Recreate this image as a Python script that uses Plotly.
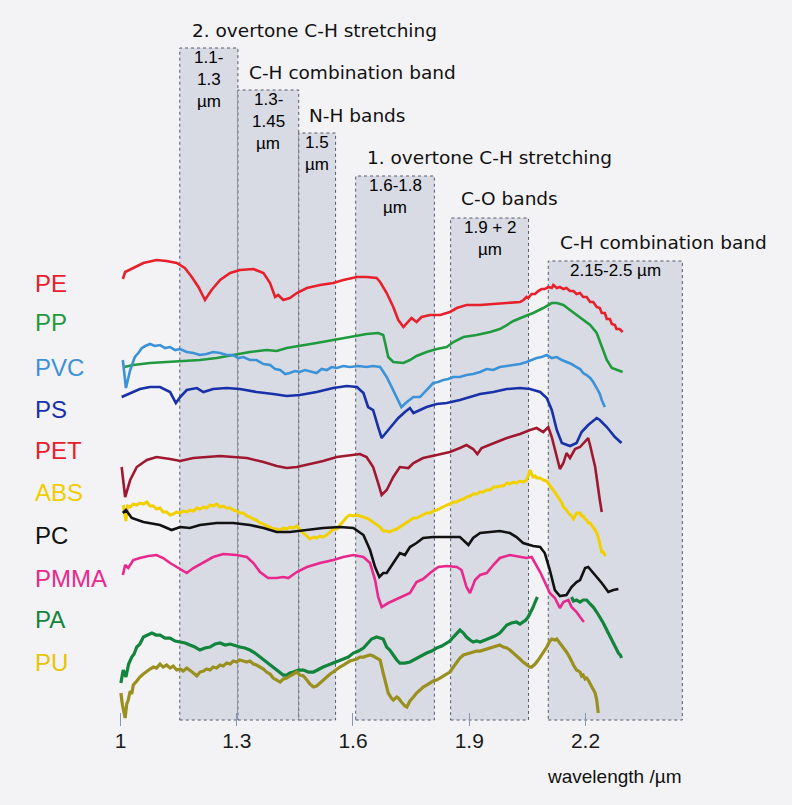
import plotly.graph_objects as go

# ---- NIR reflectance spectra of common polymers (wavelength in µm, offset intensity) ----
PE = [(1.006, 45.1), (1.012, 45.8), (1.033, 46.2), (1.059, 46.7), (1.093, 47.0), (1.119, 46.9),
      (1.145, 46.7), (1.166, 46.2), (1.184, 45.3), (1.201, 44.3), (1.218, 43.0), (1.235, 44.0),
      (1.257, 45.0), (1.283, 45.7), (1.308, 46.0), (1.343, 46.1), (1.369, 45.7), (1.386, 44.7),
      (1.399, 43.3), (1.407, 43.5), (1.420, 43.0), (1.437, 43.2), (1.455, 43.7), (1.481, 44.2),
      (1.515, 44.5), (1.549, 44.7), (1.575, 45.0), (1.610, 45.3), (1.635, 45.3), (1.661, 45.2),
      (1.670, 44.8), (1.687, 43.7), (1.704, 42.3), (1.717, 41.0), (1.730, 40.3), (1.743, 40.8),
      (1.751, 41.2), (1.764, 40.8), (1.777, 41.3), (1.799, 41.5), (1.825, 41.5), (1.850, 41.8),
      (1.868, 42.2), (1.893, 42.5), (1.928, 42.5), (1.962, 42.6), (1.997, 42.7), (2.031, 42.8),
      (2.040, 43.0), (2.048, 43.3), (2.052, 43.2), (2.061, 43.6), (2.070, 43.6), (2.078, 43.9),
      (2.087, 44.1), (2.095, 44.1), (2.104, 44.3), (2.113, 44.2), (2.117, 44.5), (2.126, 44.2),
      (2.134, 44.3), (2.143, 44.1), (2.151, 44.2), (2.160, 43.9), (2.169, 43.9), (2.177, 43.6),
      (2.186, 43.7), (2.194, 43.3), (2.203, 43.3), (2.212, 42.8), (2.220, 42.8), (2.229, 42.3),
      (2.237, 42.2), (2.242, 41.7), (2.250, 41.7), (2.255, 41.1), (2.263, 41.1), (2.268, 40.6),
      (2.276, 40.5), (2.280, 40.1), (2.288, 40.1), (2.296, 39.8)]

PP = [(1.009, 36.3), (1.033, 36.5), (1.076, 36.7), (1.119, 36.8), (1.162, 36.9), (1.205, 37.0),
      (1.248, 37.2), (1.291, 37.5), (1.334, 37.8), (1.377, 38.0), (1.403, 37.9), (1.429, 38.2),
      (1.463, 38.4), (1.506, 38.7), (1.549, 39.0), (1.592, 39.3), (1.635, 39.6), (1.665, 39.7),
      (1.678, 39.5), (1.683, 38.7), (1.691, 37.3), (1.704, 36.8), (1.730, 36.7), (1.747, 37.0),
      (1.764, 37.4), (1.790, 37.8), (1.816, 38.1), (1.842, 38.3), (1.859, 38.8), (1.885, 39.3),
      (1.919, 39.5), (1.954, 39.8), (1.979, 40.1), (1.997, 40.5), (2.014, 40.9), (2.039, 41.3),
      (2.065, 41.7), (2.091, 42.2), (2.113, 42.7), (2.126, 42.7), (2.143, 42.5), (2.160, 42.0),
      (2.177, 41.5), (2.194, 41.0), (2.212, 40.5), (2.229, 39.7), (2.242, 38.3), (2.255, 37.0),
      (2.268, 36.2), (2.285, 36.0), (2.296, 35.8)]

PVC = [(1.006, 37.0), (1.014, 34.2), (1.025, 36.0), (1.037, 37.3), (1.046, 37.7), (1.055, 38.2),
       (1.064, 38.4), (1.076, 38.6), (1.089, 38.4), (1.102, 38.5), (1.115, 38.2), (1.128, 38.3),
       (1.141, 38.0), (1.154, 38.1), (1.171, 37.8), (1.188, 37.7), (1.205, 37.5), (1.222, 37.6),
       (1.239, 37.8), (1.257, 37.7), (1.274, 37.5), (1.291, 37.5), (1.304, 37.2), (1.317, 37.3),
       (1.334, 37.0), (1.351, 37.0), (1.369, 36.6), (1.386, 36.5), (1.399, 36.1), (1.412, 36.0),
       (1.425, 35.6), (1.437, 35.7), (1.450, 35.9), (1.463, 35.8), (1.476, 36.0), (1.489, 35.9),
       (1.506, 35.7), (1.519, 36.1), (1.532, 36.0), (1.545, 36.3), (1.558, 36.2), (1.575, 36.4),
       (1.592, 36.3), (1.614, 36.4), (1.635, 36.3), (1.652, 36.4), (1.670, 36.3), (1.687, 35.3),
       (1.708, 33.7), (1.725, 32.3), (1.739, 32.8), (1.756, 33.3), (1.773, 33.3), (1.790, 34.0),
       (1.807, 34.7), (1.820, 34.8), (1.833, 35.0), (1.846, 35.1), (1.859, 35.3), (1.876, 35.3),
       (1.893, 35.5), (1.910, 35.6), (1.928, 35.8), (1.945, 36.1), (1.962, 36.0), (1.979, 36.3),
       (1.997, 36.4), (2.014, 36.5), (2.031, 36.6), (2.048, 36.8), (2.061, 37.0), (2.074, 37.2),
       (2.087, 37.3), (2.100, 37.5), (2.113, 37.2), (2.126, 37.3), (2.139, 37.0), (2.151, 36.8),
       (2.164, 36.6), (2.177, 36.3), (2.186, 36.1), (2.194, 35.7), (2.203, 35.5), (2.212, 35.2),
       (2.220, 34.8), (2.229, 34.2), (2.237, 33.6), (2.242, 33.0), (2.246, 32.6), (2.250, 32.3)]

PS = [(1.003, 33.3), (1.025, 33.7), (1.050, 34.1), (1.076, 34.3), (1.102, 34.3), (1.128, 33.8),
      (1.143, 32.7), (1.154, 33.3), (1.171, 34.0), (1.197, 34.2), (1.214, 33.8), (1.239, 34.1),
      (1.274, 34.2), (1.308, 34.1), (1.351, 33.8), (1.394, 33.6), (1.429, 33.4), (1.463, 33.5),
      (1.506, 33.8), (1.549, 34.2), (1.584, 34.4), (1.610, 34.3), (1.627, 33.7), (1.639, 32.3),
      (1.652, 32.0), (1.665, 30.3), (1.674, 29.2), (1.691, 30.0), (1.717, 31.2), (1.734, 31.8),
      (1.747, 32.2), (1.756, 31.7), (1.773, 32.0), (1.790, 32.3), (1.816, 32.6), (1.842, 32.7),
      (1.876, 33.0), (1.902, 33.3), (1.928, 33.6), (1.962, 33.8), (1.997, 34.1), (2.031, 34.2),
      (2.057, 34.1), (2.083, 33.8), (2.100, 33.2), (2.113, 32.0), (2.126, 30.0), (2.139, 28.7),
      (2.160, 28.4), (2.177, 28.7), (2.190, 29.8), (2.207, 30.5), (2.229, 31.2), (2.237, 31.0),
      (2.255, 30.3), (2.276, 29.3), (2.293, 28.7)]

PET = [(1.003, 26.3), (1.012, 23.3), (1.025, 25.0), (1.042, 26.3), (1.068, 27.0), (1.093, 27.3),
       (1.128, 27.1), (1.154, 26.9), (1.188, 27.2), (1.222, 27.3), (1.257, 27.4), (1.291, 27.3),
       (1.326, 27.2), (1.369, 26.8), (1.403, 26.4), (1.429, 26.2), (1.455, 26.3), (1.489, 26.6),
       (1.523, 26.9), (1.558, 27.3), (1.592, 27.5), (1.618, 27.6), (1.635, 27.3), (1.652, 26.3),
       (1.665, 24.7), (1.674, 23.5), (1.687, 24.0), (1.704, 25.3), (1.721, 26.3), (1.743, 26.2),
       (1.756, 26.7), (1.781, 27.2), (1.816, 27.5), (1.850, 27.8), (1.876, 28.2), (1.893, 28.5),
       (1.910, 28.1), (1.921, 27.6), (1.932, 28.2), (1.954, 28.5), (1.971, 28.8), (1.997, 29.2),
       (2.031, 29.6), (2.057, 30.0), (2.074, 30.2), (2.091, 29.8), (2.104, 30.3), (2.113, 29.3),
       (2.126, 27.3), (2.134, 26.1), (2.143, 26.7), (2.151, 27.7), (2.160, 27.2), (2.173, 28.1),
       (2.186, 28.3), (2.199, 28.8), (2.207, 29.2), (2.213, 28.3), (2.225, 26.3), (2.237, 23.0),
       (2.242, 21.8)]

ABS = [(1.007, 22.5), (1.014, 20.9), (1.018, 22.4), (1.025, 22.3), (1.033, 22.6), (1.042, 22.5),
       (1.050, 22.7), (1.059, 22.6), (1.068, 22.8), (1.076, 22.4), (1.085, 22.4), (1.093, 22.1),
       (1.102, 22.2), (1.110, 21.8), (1.119, 21.8), (1.128, 21.5), (1.136, 21.6), (1.145, 21.8),
       (1.154, 21.7), (1.162, 21.9), (1.171, 21.8), (1.179, 22.0), (1.188, 21.9), (1.197, 22.2),
       (1.205, 22.1), (1.214, 22.3), (1.222, 22.2), (1.231, 22.5), (1.239, 22.4), (1.248, 22.6),
       (1.257, 22.3), (1.265, 22.4), (1.274, 22.2), (1.283, 22.2), (1.291, 22.0), (1.300, 21.9),
       (1.308, 21.7), (1.317, 21.7), (1.326, 21.4), (1.334, 21.3), (1.343, 21.1), (1.351, 21.0),
       (1.360, 20.7), (1.369, 20.6), (1.377, 20.4), (1.386, 20.3), (1.394, 20.1), (1.403, 20.1),
       (1.412, 20.0), (1.420, 20.2), (1.429, 20.1), (1.437, 20.3), (1.446, 20.2), (1.455, 20.4),
       (1.463, 20.0), (1.472, 19.7), (1.481, 19.4), (1.489, 19.1), (1.498, 19.3), (1.506, 19.2),
       (1.515, 19.4), (1.523, 19.3), (1.532, 19.5), (1.541, 19.8), (1.549, 20.1), (1.558, 20.1),
       (1.566, 20.5), (1.575, 20.9), (1.584, 21.3), (1.592, 21.5), (1.601, 21.4), (1.610, 21.5),
       (1.618, 21.4), (1.627, 21.3), (1.635, 21.2), (1.644, 21.0), (1.652, 20.8), (1.661, 20.5),
       (1.670, 20.3), (1.678, 19.9), (1.687, 19.9), (1.695, 19.8), (1.704, 20.0), (1.713, 20.1),
       (1.721, 20.3), (1.730, 20.5), (1.739, 20.7), (1.747, 20.9), (1.756, 21.2), (1.764, 21.2),
       (1.773, 21.4), (1.781, 21.5), (1.790, 21.7), (1.799, 21.7), (1.807, 21.9), (1.816, 22.0),
       (1.825, 22.2), (1.833, 22.3), (1.842, 22.5), (1.850, 22.6), (1.859, 22.8), (1.868, 22.8),
       (1.876, 23.0), (1.885, 23.1), (1.893, 23.3), (1.902, 23.4), (1.910, 23.6), (1.919, 23.6),
       (1.928, 23.8), (1.936, 23.8), (1.945, 24.0), (1.954, 24.0), (1.962, 24.3), (1.971, 24.3),
       (1.979, 24.4), (1.988, 24.4), (1.997, 24.7), (2.005, 24.6), (2.014, 24.8), (2.022, 24.7),
       (2.031, 24.9), (2.039, 24.8), (2.048, 25.0), (2.052, 25.4), (2.057, 26.0), (2.061, 25.6),
       (2.065, 25.3), (2.070, 25.4), (2.074, 25.2), (2.083, 25.2), (2.091, 25.0), (2.100, 24.9),
       (2.108, 24.5), (2.117, 24.0), (2.126, 23.5), (2.134, 23.0), (2.139, 22.7), (2.143, 22.3),
       (2.151, 22.0), (2.156, 21.7), (2.164, 21.4), (2.169, 21.1), (2.173, 21.4), (2.177, 21.7),
       (2.186, 21.7), (2.190, 21.4), (2.194, 21.4), (2.199, 21.1), (2.203, 21.0), (2.207, 20.7),
       (2.212, 20.7), (2.220, 20.3), (2.225, 20.0), (2.229, 19.7), (2.233, 19.3), (2.237, 18.6),
       (2.242, 17.8), (2.246, 17.8), (2.250, 17.5), (2.253, 17.5)]

PC = [(1.006, 21.7), (1.014, 22.0), (1.029, 21.2), (1.059, 20.8), (1.102, 20.5), (1.132, 20.0),
      (1.154, 20.3), (1.179, 20.2), (1.205, 20.5), (1.248, 20.7), (1.291, 20.7), (1.334, 20.5),
      (1.369, 20.2), (1.403, 19.8), (1.437, 19.8), (1.481, 20.0), (1.523, 20.2), (1.566, 20.3),
      (1.601, 20.2), (1.627, 19.5), (1.644, 18.0), (1.657, 16.3), (1.668, 15.3), (1.678, 15.7),
      (1.687, 15.7), (1.704, 16.7), (1.721, 17.7), (1.734, 17.5), (1.747, 18.3), (1.764, 18.7),
      (1.781, 19.2), (1.807, 19.3), (1.842, 19.3), (1.876, 19.3), (1.898, 18.5), (1.910, 19.2),
      (1.928, 19.7), (1.954, 19.8), (1.979, 19.9), (2.005, 19.7), (2.022, 19.3), (2.039, 18.7),
      (2.065, 18.4), (2.083, 18.3), (2.095, 17.7), (2.108, 16.0), (2.121, 14.0), (2.134, 13.4),
      (2.151, 13.5), (2.164, 14.3), (2.177, 14.8), (2.186, 15.0), (2.199, 16.2), (2.207, 16.3),
      (2.225, 15.5), (2.242, 14.7), (2.259, 13.8), (2.272, 14.0), (2.285, 14.1)]

PMMA = [(1.006, 15.5), (1.012, 16.5), (1.020, 16.2), (1.033, 17.0), (1.050, 17.2), (1.072, 17.4),
        (1.093, 17.5), (1.110, 17.2), (1.128, 16.7), (1.149, 16.2), (1.171, 15.7), (1.188, 16.2),
        (1.214, 16.8), (1.239, 17.3), (1.265, 17.6), (1.300, 17.5), (1.326, 17.3), (1.343, 16.7),
        (1.360, 15.8), (1.381, 15.2), (1.403, 15.2), (1.420, 15.3), (1.433, 15.2), (1.455, 15.8),
        (1.481, 16.3), (1.515, 16.7), (1.549, 17.0), (1.575, 17.3), (1.601, 17.5), (1.627, 17.3),
        (1.644, 16.7), (1.657, 15.0), (1.665, 13.3), (1.674, 12.3), (1.691, 12.7), (1.721, 13.2),
        (1.747, 13.7), (1.764, 14.8), (1.781, 15.1), (1.799, 15.7), (1.820, 16.3), (1.842, 16.4),
        (1.868, 16.3), (1.880, 16.0), (1.893, 14.3), (1.902, 13.7), (1.915, 15.0), (1.928, 15.5),
        (1.945, 15.7), (1.962, 16.5), (1.979, 17.2), (2.005, 17.5), (2.031, 17.3), (2.048, 17.2),
        (2.061, 17.3), (2.070, 16.7), (2.083, 15.8), (2.095, 14.8), (2.108, 13.7), (2.121, 13.2),
        (2.134, 12.2), (2.143, 12.8), (2.156, 13.0), (2.164, 12.3), (2.177, 11.8), (2.186, 11.3),
        (2.196, 10.8)]

PA = [(1.001, 4.7), (1.007, 6.0), (1.014, 5.3), (1.021, 6.6), (1.029, 7.3), (1.035, 7.6),
      (1.042, 8.3), (1.050, 8.6), (1.059, 9.3), (1.070, 9.5), (1.081, 9.7), (1.092, 9.5),
      (1.102, 9.5), (1.115, 9.2), (1.128, 9.2), (1.141, 8.9), (1.154, 8.8), (1.167, 8.7),
      (1.179, 8.5), (1.192, 8.3), (1.205, 8.0), (1.218, 8.2), (1.231, 8.3), (1.244, 8.6),
      (1.257, 8.7), (1.270, 8.5), (1.283, 8.6), (1.296, 8.4), (1.308, 8.3), (1.321, 8.2),
      (1.334, 8.0), (1.347, 7.7), (1.360, 7.3), (1.373, 6.9), (1.386, 6.5), (1.399, 6.1),
      (1.412, 5.7), (1.420, 5.5), (1.429, 5.5), (1.437, 5.7), (1.446, 5.8), (1.459, 6.0),
      (1.472, 6.0), (1.485, 5.8), (1.498, 5.8), (1.511, 6.1), (1.523, 6.3), (1.536, 6.5),
      (1.549, 6.7), (1.562, 6.9), (1.575, 7.1), (1.588, 7.3), (1.601, 7.7), (1.614, 7.9),
      (1.627, 8.2), (1.639, 8.7), (1.648, 9.1), (1.661, 9.3), (1.670, 9.2), (1.678, 9.1),
      (1.687, 8.3), (1.695, 8.0), (1.704, 7.5), (1.713, 7.0), (1.721, 6.7), (1.734, 6.7),
      (1.747, 6.8), (1.756, 7.0), (1.764, 7.2), (1.777, 7.4), (1.790, 7.7), (1.803, 7.9),
      (1.816, 8.2), (1.829, 8.4), (1.842, 8.7), (1.850, 8.9), (1.859, 9.3), (1.868, 9.7),
      (1.876, 10.0), (1.885, 9.7), (1.893, 9.3), (1.902, 9.0), (1.910, 8.8), (1.919, 8.9),
      (1.928, 8.8), (1.941, 9.0), (1.954, 9.2), (1.966, 9.4), (1.979, 9.7), (1.988, 10.1),
      (1.997, 10.5), (2.009, 10.7), (2.022, 10.8), (2.031, 10.6), (2.039, 10.8), (2.046, 11.0),
      (2.052, 11.3), (2.059, 11.8), (2.065, 12.3), (2.070, 12.8), (2.076, 13.3), (None, None),
      (2.164, 13.3), (2.169, 12.9), (2.177, 13.0), (2.186, 12.8), (2.194, 13.0), (2.203, 13.0),
      (2.212, 12.6), (2.220, 12.3), (2.229, 11.8), (2.237, 11.3), (2.246, 10.7), (2.255, 10.0),
      (2.263, 9.4), (2.272, 8.7), (2.280, 8.1), (2.285, 7.7), (2.290, 7.5), (2.293, 7.2)]

PU = [(1.001, 3.7), (1.005, 2.5), (1.012, 1.2), (1.016, 2.6), (1.020, 3.0), (1.025, 3.9),
      (1.029, 3.6), (1.033, 4.5), (1.042, 4.9), (1.050, 5.3), (1.059, 5.6), (1.068, 5.9),
      (1.076, 6.1), (1.085, 6.3), (1.093, 6.2), (1.102, 6.6), (1.110, 6.3), (1.119, 6.5),
      (1.128, 6.2), (1.136, 6.4), (1.145, 6.0), (1.154, 6.1), (1.162, 5.9), (1.171, 6.2),
      (1.179, 6.0), (1.188, 5.7), (1.197, 5.4), (1.205, 5.8), (1.214, 5.9), (1.222, 6.1),
      (1.231, 6.0), (1.239, 6.3), (1.248, 6.2), (1.257, 6.5), (1.265, 6.4), (1.274, 6.7),
      (1.283, 6.6), (1.291, 6.9), (1.300, 6.8), (1.308, 7.0), (1.317, 6.9), (1.326, 6.8),
      (1.334, 6.9), (1.343, 6.6), (1.351, 6.5), (1.360, 6.3), (1.369, 6.1), (1.377, 5.8),
      (1.386, 5.6), (1.394, 5.2), (1.403, 5.0), (1.412, 4.8), (1.420, 5.1), (1.429, 5.2),
      (1.437, 5.4), (1.446, 5.6), (1.455, 5.8), (1.463, 5.5), (1.472, 5.4), (1.481, 5.0),
      (1.489, 4.6), (1.498, 4.3), (1.506, 4.4), (1.515, 4.7), (1.523, 5.0), (1.532, 5.3),
      (1.541, 5.6), (1.549, 5.8), (1.558, 6.1), (1.566, 6.3), (1.575, 6.5), (1.584, 6.7),
      (1.592, 6.9), (1.601, 7.0), (1.610, 7.1), (1.618, 7.3), (1.627, 7.3), (1.635, 7.4),
      (1.644, 7.5), (1.652, 7.4), (1.661, 7.2), (1.670, 7.0), (1.678, 5.7), (1.687, 4.2),
      (1.691, 3.7), (1.699, 3.2), (1.704, 3.0), (1.713, 3.3), (1.717, 3.2), (1.725, 2.8),
      (1.734, 2.4), (1.739, 2.3), (1.747, 2.9), (1.756, 3.3), (1.764, 3.7), (1.773, 4.0),
      (1.781, 4.3), (1.790, 4.5), (1.799, 4.7), (1.807, 4.9), (1.816, 5.0), (1.825, 5.2),
      (1.833, 5.4), (1.842, 5.6), (1.850, 5.8), (1.859, 6.3), (1.868, 6.8), (1.876, 7.2),
      (1.885, 7.5), (1.893, 7.6), (1.902, 7.7), (1.910, 7.8), (1.919, 7.9), (1.928, 7.9),
      (1.936, 8.0), (1.945, 8.1), (1.954, 8.2), (1.962, 8.3), (1.971, 8.4), (1.979, 8.5),
      (1.988, 8.3), (1.997, 8.2), (2.005, 8.0), (2.014, 7.7), (2.022, 7.5), (2.031, 7.1),
      (2.039, 6.8), (2.048, 6.5), (2.057, 6.3), (2.061, 6.3), (2.070, 6.6), (2.078, 7.0),
      (2.087, 7.6), (2.095, 8.0), (2.100, 8.3), (2.108, 8.9), (2.113, 9.1), (2.121, 9.0),
      (2.126, 9.1), (2.134, 8.7), (2.139, 8.5), (2.143, 8.2), (2.151, 7.8), (2.156, 7.5),
      (2.160, 7.1), (2.164, 6.9), (2.169, 6.5), (2.173, 6.3), (2.177, 6.0), (2.182, 5.9),
      (2.186, 5.8), (2.190, 5.4), (2.194, 5.5), (2.199, 5.1), (2.203, 5.2), (2.207, 5.0),
      (2.212, 4.6), (2.216, 4.3), (2.220, 4.0), (2.225, 3.7), (2.229, 3.0), (2.231, 2.2),
      (2.233, 1.7)]

POLYMERS = ["PE", "PP", "PVC", "PS", "PET", "ABS", "PC", "PMMA", "PA", "PU"]
SPECTRA = [PE, PP, PVC, PS, PET, ABS, PC, PMMA, PA, PU]
LINE_COLORS = ["#e8202c", "#1f9a3c", "#3c92d6", "#1830a8", "#a01830",
               "#f2d000", "#111111", "#e8288c", "#12843c", "#9a9020"]
LABEL_COLORS = ["#e8202c", "#1f9a3c", "#3c92d6", "#1830a8", "#e8202c",
                "#f0cc00", "#111111", "#e8288c", "#12843c", "#e8c400"]
LINE_WIDTHS = [2.6, 2.6, 2.6, 2.6, 2.6, 3.0, 2.6, 2.6, 3.2, 3.2]
LABEL_LEVEL = [44.7, 40.8, 36.3, 32.1, 28.0, 23.8, 19.5, 15.2, 11.1, 6.8]

# ---- absorption band regions ----
BAND_LO = [1.153, 1.303, 1.460, 1.607, 1.852, 2.104]
BAND_HI = [1.303, 1.460, 1.555, 1.810, 2.053, 2.450]
BAND_TOP = [68.2, 64.0, 59.7, 55.4, 51.2, 46.9]
BAND_BASE = 1.0
BAND_NAMES = ["2. overtone C-H stretching", "C-H combination band", "N-H bands",
              "1. overtone C-H stretching", "C-O bands", "C-H combination band"]
BAND_RANGES = [["1.1-", "1.3", "µm"], ["1.3-", "1.45", "µm"], ["1.5", "µm"],
               ["1.6-1.8", "µm"], ["1.9 + 2", "µm"], ["2.15-2.5 µm"]]

TICK_VALS = [1.0, 1.3, 1.6, 1.9, 2.2]
TICK_TEXT = ["1", "1.3", "1.6", "1.9", "2.2"]

BG = "#f3f3f5"
fig = go.Figure()

for lo, hi, top in zip(BAND_LO, BAND_HI, BAND_TOP):
    fig.add_shape(type="rect", xref="x", yref="y", x0=lo, x1=hi, y0=BAND_BASE, y1=top,
                  fillcolor="#d8dbe4", line=dict(color="#525a6c", width=1, dash="dot"),
                  layer="below")

for name, pts, col, lw in zip(POLYMERS, SPECTRA, LINE_COLORS, LINE_WIDTHS):
    fig.add_trace(go.Scatter(x=[p[0] for p in pts], y=[p[1] for p in pts], mode="lines",
                             name=name, line=dict(color=col, width=lw),
                             connectgaps=False, hoverinfo="skip"))

annotations = []
for name, lvl, col in zip(POLYMERS, LABEL_LEVEL, LABEL_COLORS):
    annotations.append(dict(x=0.774, y=lvl, xref="x", yref="y", text=name, showarrow=False,
                            xanchor="left", yanchor="middle",
                            font=dict(family="Liberation Sans, Arial", size=24, color=col)))

NAME_X = [1.180, 1.326, 1.481, 1.631, 1.874, 2.130]
NAME_Y = [70.0, 65.8, 61.5, 57.3, 53.2, 48.8]
for txt, nx, ny in zip(BAND_NAMES, NAME_X, NAME_Y):
    annotations.append(dict(x=nx, y=ny, xref="x", yref="y", text=txt, showarrow=False,
                            xanchor="left", yanchor="middle",
                            font=dict(family="DejaVu Sans", size=18.5, color="#111111")))

for lo, hi, top, lines in zip(BAND_LO, BAND_HI, BAND_TOP, BAND_RANGES):
    for i, line in enumerate(lines):
        annotations.append(dict(x=(lo + hi) / 2, y=top - 0.95 - 2.2 * i, xref="x", yref="y",
                                text=line, showarrow=False, xanchor="center", yanchor="middle",
                                font=dict(family="Liberation Sans, Arial", size=17,
                                          color="#000000")))

annotations.append(dict(x=2.095, y=0.036, xref="x", yref="paper", text="wavelength /µm",
                        showarrow=False, xanchor="left", yanchor="middle",
                        font=dict(family="Liberation Sans, Arial", size=19, color="#111111")))

fig.update_layout(
    width=792, height=805, margin=dict(l=0, r=0, t=0, b=0),
    paper_bgcolor=BG, plot_bgcolor=BG, showlegend=False,
    annotations=annotations,
    xaxis=dict(range=[0.689, 2.733], showgrid=False, zeroline=False, showline=False,
               ticks="inside", ticklen=13, tickcolor="#8a96b8", tickwidth=1,
               tickvals=TICK_VALS, ticktext=TICK_TEXT,
               tickfont=dict(family="Liberation Sans, Arial", size=21, color="#1a1a1a")),
    yaxis=dict(domain=[0.0981, 1.0], range=[0.4, 73], visible=False),
)

fig.write_html("out.html")
